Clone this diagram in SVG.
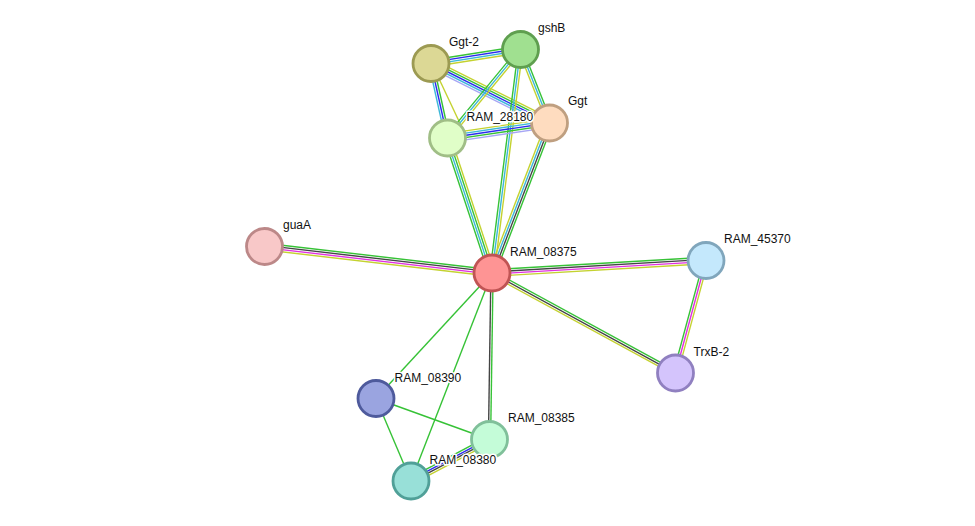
<svg xmlns="http://www.w3.org/2000/svg" width="975" height="526" viewBox="0 0 975 526">
<style>
line{stroke-width:1.4;fill:none}
.g{stroke:#36c236}.b{stroke:#2b2bef}.c{stroke:#3cb8d8}.y{stroke:#c4d230}.k{stroke:#444}.m{stroke:#e030e0}.p{stroke:#a6a6f5}
.node circle{stroke-width:2.8}
text{font-family:"Liberation Sans",Arial,sans-serif;font-size:12px;fill:#111;stroke:#fff;stroke-width:3;paint-order:stroke;stroke-linejoin:round}
</style>
<rect width="975" height="526" fill="#fff"/>
<g id="edges">
<g transform="translate(264.5,246.5) rotate(6.64)"><line class="g" x2="229" y1="-3.3" y2="-3.3"/><line class="k" x2="229" y1="-1.1" y2="-1.1"/><line class="m" x2="229" y1="1.1" y2="1.1"/><line class="y" x2="229" y1="3.3" y2="3.3"/></g>
<g transform="translate(492,273) rotate(-3.34)"><line class="g" x2="214.4" y1="-3.3" y2="-3.3"/><line class="k" x2="214.4" y1="-1.1" y2="-1.1"/><line class="m" x2="214.4" y1="1.1" y2="1.1"/><line class="y" x2="214.4" y1="3.3" y2="3.3"/></g>
<g transform="translate(706,260.5) rotate(105.17)"><line class="g" x2="116.6" y1="2.2" y2="2.2"/><line class="m" x2="116.6"/><line class="y" x2="116.6" y1="-2.2" y2="-2.2"/></g>
<g transform="translate(492,273) rotate(28.59)"><line class="g" x2="209" y1="-2.2" y2="-2.2"/><line class="k" x2="209"/><line class="y" x2="209" y1="2.2" y2="2.2"/></g>
<g transform="translate(492,273) rotate(90.86)"><line class="k" x2="166.5" y1="1.1" y2="1.1"/><line class="g" x2="166.5" y1="-1.1" y2="-1.1"/></g>
<line class="g" x1="492" y1="273" x2="376" y2="398.5"/>
<line class="g" x1="492" y1="273" x2="411" y2="481"/>
<line class="g" x1="376" y1="398.5" x2="489.5" y2="439.5"/>
<line class="g" x1="376" y1="398.5" x2="411" y2="481"/>
<g transform="translate(489.5,439.5) rotate(152.14)"><line class="g" x2="88.8" y1="3.3" y2="3.3"/><line class="b" x2="88.8" y1="1.1" y2="1.1"/><line class="k" x2="88.8" y1="-1.1" y2="-1.1"/><line class="y" x2="88.8" y1="-3.3" y2="-3.3"/></g>
<g transform="translate(431,63.5) rotate(-8.89)"><line class="g" x2="90.6" y1="-3.3" y2="-3.3"/><line class="b" x2="90.6" y1="-1.1" y2="-1.1"/><line class="c" x2="90.6" y1="1.1" y2="1.1"/><line class="y" x2="90.6" y1="3.3" y2="3.3"/></g>
<g transform="translate(431,63.5) rotate(26.66)"><line class="y" x2="132.6" y1="-4.4" y2="-4.4"/><line class="g" x2="132.6" y1="-2.2" y2="-2.2"/><line class="b" x2="132.6"/><line class="c" x2="132.6" y1="2.2" y2="2.2"/><line class="p" x2="132.6" y1="4.4" y2="4.4"/></g>
<g transform="translate(431,63.5) rotate(77.51)"><line class="c" x2="76.3" y1="2.2" y2="2.2"/><line class="b" x2="76.3"/><line class="g" x2="76.3" y1="-2.2" y2="-2.2"/></g>
<line class="y" x1="433" y1="66" x2="465" y2="134"/>
<g transform="translate(520.5,49.5) rotate(68.46)"><line class="y" x2="79" y1="2.2" y2="2.2"/><line class="c" x2="79"/><line class="g" x2="79" y1="-2.2" y2="-2.2"/></g>
<g transform="translate(520.5,49.5) rotate(129.52)"><line class="g" x2="114.7" y1="2.2" y2="2.2"/><line class="c" x2="114.7"/><line class="y" x2="114.7" y1="-2.2" y2="-2.2"/></g>
<g transform="translate(520.5,49.5) rotate(97.27)"><line class="g" x2="225.3" y1="2.2" y2="2.2"/><line class="c" x2="225.3"/><line class="y" x2="225.3" y1="-2.2" y2="-2.2"/></g>
<g transform="translate(447.5,138) rotate(71.76)"><line class="g" x2="142.1" y1="3.3" y2="3.3"/><line class="c" x2="142.1" y1="1.1" y2="1.1"/><line class="g" x2="142.1" y1="-1.1" y2="-1.1"/><line class="y" x2="142.1" y1="-3.3" y2="-3.3"/></g>
<g transform="translate(549.5,123) rotate(110.97)"><line class="y" x2="160.6" y1="3.3" y2="3.3"/><line class="c" x2="160.6" y1="1.1" y2="1.1"/><line class="k" x2="160.6" y1="-1.1" y2="-1.1"/><line class="g" x2="160.6" y1="-3.3" y2="-3.3"/></g>
<g transform="translate(447.5,138) rotate(-8.37)"><line class="y" x2="103.1" y1="-4.4" y2="-4.4"/><line class="c" x2="103.1" y1="-2.2" y2="-2.2"/><line class="b" x2="103.1"/><line class="g" x2="103.1" y1="2.2" y2="2.2"/><line class="p" x2="103.1" y1="4.4" y2="4.4"/></g>
</g>
<g id="Ggt-2" class="node"><circle cx="431" cy="63.5" r="18" fill="#dcd895" stroke="#9c9a52"/><text x="449" y="46">Ggt-2</text></g>
<g id="gshB" class="node"><circle cx="520.5" cy="49.5" r="18" fill="#a0e090" stroke="#5f9f4f"/><text x="538" y="32">gshB</text></g>
<g id="Ggt" class="node"><circle cx="549.5" cy="123" r="18" fill="#fedcbf" stroke="#bf9f80"/><text x="568" y="105">Ggt</text></g>
<g id="RAM_28180" class="node"><circle cx="447.5" cy="138" r="18" fill="#e0fec8" stroke="#a0be86"/><text x="466.5" y="121">RAM_28180</text></g>
<g id="guaA" class="node"><circle cx="264.5" cy="246.5" r="18" fill="#f8c8c8" stroke="#bc8888"/><text x="283" y="229">guaA</text></g>
<g id="RAM_08375" class="node"><circle cx="492" cy="273" r="18" fill="#fe9494" stroke="#c05454"/><text x="510" y="256">RAM_08375</text></g>
<g id="RAM_45370" class="node"><circle cx="706" cy="260.5" r="18" fill="#c4e8fc" stroke="#80a6bc"/><text x="724" y="243">RAM_45370</text></g>
<g id="TrxB-2" class="node"><circle cx="675.5" cy="373" r="18" fill="#d4c4fc" stroke="#9080c0"/><text x="693.5" y="355.5">TrxB-2</text></g>
<g id="RAM_08390" class="node"><circle cx="376" cy="398.5" r="18" fill="#9aa4e0" stroke="#4e5a9c"/><text x="394.5" y="381.5">RAM_08390</text></g>
<g id="RAM_08385" class="node"><circle cx="489.5" cy="439.5" r="18" fill="#c4fcd8" stroke="#80c09a"/><text x="508" y="422">RAM_08385</text></g>
<g id="RAM_08380" class="node"><circle cx="411" cy="481" r="18" fill="#98e0d8" stroke="#50a098"/><text x="429.5" y="463.5">RAM_08380</text></g>
</svg>
